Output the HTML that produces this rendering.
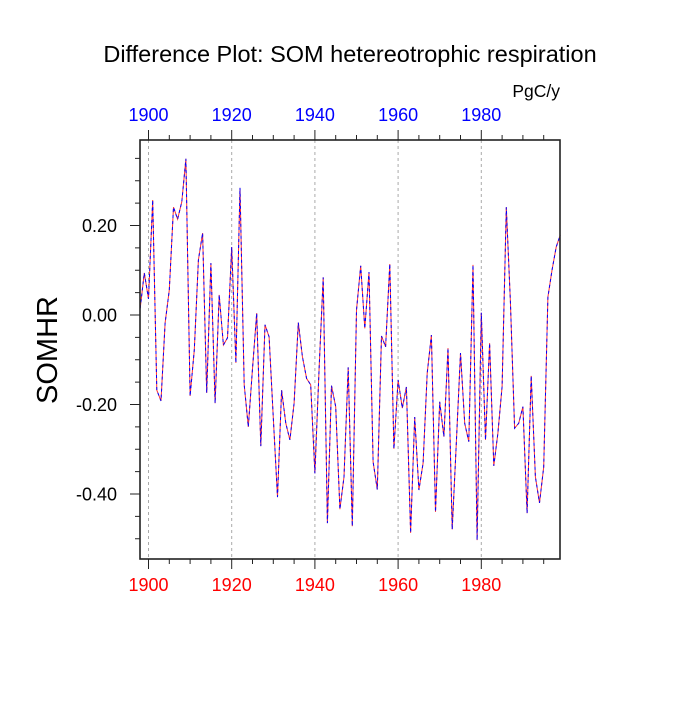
<!DOCTYPE html>
<html><head><meta charset="utf-8"><style>
body{margin:0;background:#fff}
svg text{font-family:"Liberation Sans",Arial,sans-serif}
</style></head><body>
<svg id="chart" width="700" height="700" xmlns="http://www.w3.org/2000/svg">
<text x="350" y="62" text-anchor="middle" font-size="23.5">Difference Plot: SOM hetereotrophic respiration</text>
<text x="560" y="97" text-anchor="end" font-size="17.5">PgC/y</text>
<text transform="translate(57,350) rotate(-90)" text-anchor="middle" font-size="29">SOMHR</text>
<g id="grid"></g>
<g id="series"></g>
<g id="axes"></g>
</svg>
<script>
const startYear = 1898;
const values = [0.015,0.094,0.036,0.257,-0.168,-0.192,-0.018,0.056,0.241,0.214,0.253,0.349,-0.181,-0.078,0.123,0.183,-0.174,0.116,-0.197,0.045,-0.067,-0.051,0.152,-0.107,0.284,-0.156,-0.250,-0.12,0.004,-0.293,-0.022,-0.049,-0.23,-0.407,
-0.168,-0.242,-0.279,-0.197,-0.017,-0.093,-0.142,-0.156,-0.354,-0.12,0.084,-0.465,-0.158,-0.205,-0.434,-0.362,-0.117,-0.472,0.011,0.110,-0.030,0.096,-0.328,-0.390,-0.047,-0.071,0.114,-0.299,-0.145,-0.208,-0.161,-0.487,-0.228,-0.391,
-0.331,-0.130,-0.045,-0.440,-0.194,-0.272,-0.074,-0.479,-0.287,-0.085,-0.242,-0.283,0.112,-0.503,0.005,-0.279,-0.063,-0.337,-0.264,-0.160,0.241,0.03,-0.253,-0.242,-0.205,-0.443,-0.136,-0.362,-0.420,-0.340,0.040,0.100,0.152,0.179];
const xTicks = [1900,1920,1940,1960,1980];
const yTicks = [0.2,0.0,-0.2,-0.4];
const yTickLabels = ["0.20","0.00","-0.20","-0.40"];

const L=140,R=560,T=140,B=559;
const x = yr => 148.5 + (yr-1900)*4.16;
const y = v => 315 - v*447.5;
const NS="http://www.w3.org/2000/svg";
function mk(tag, parent, attrs){const e=document.createElementNS(NS,tag);for(const k in attrs)e.setAttribute(k,attrs[k]);parent.appendChild(e);return e;}
const grid=document.getElementById('grid'), series=document.getElementById('series'), axes=document.getElementById('axes');

xTicks.forEach(t=>{
  const g=mk('line',grid,{x1:x(t),x2:x(t),y1:T,y2:B,stroke:'#aaa','stroke-width':1,'stroke-dasharray':'3,3'});
  
  
});

const pts=values.map((v,i)=>x(startYear+i).toFixed(1)+','+y(v).toFixed(1)).join(' ');
const l1=mk('polyline',series,{points:pts,fill:'none',stroke:'#f33','stroke-width':1});


const l2=mk('polyline',series,{points:pts,fill:'none',stroke:'#00f','stroke-width':1,'stroke-dasharray':'3,3'});



const frame=mk('rect',axes,{x:L,y:T,width:R-L,height:B-T,fill:'none',stroke:'#222','stroke-width':1.6});



for(let yr=1900; yr<=1995; yr+=5){
  const maj = yr%20===0 && yr<=1980;
  const len = maj?10:5;
  mk('line',axes,{x1:x(yr),x2:x(yr),y1:T,y2:T-len,stroke:'#222','stroke-width':1});
  mk('line',axes,{x1:x(yr),x2:x(yr),y1:B,y2:B+len,stroke:'#222','stroke-width':1});
}
xTicks.forEach(t=>{
  const a=mk('text',axes,{x:x(t),y:121,'text-anchor':'middle','font-size':18,fill:'#00f'});a.textContent=t;
  
  
  const b=mk('text',axes,{x:x(t),y:591,'text-anchor':'middle','font-size':18,fill:'#f00'});b.textContent=t;
  
  
});
for(let k=-10;k<=7;k++){
  const v=k*0.05; const yy=y(v);
  if(yy<T||yy>B) continue;
  const maj = k%4===0;
  mk('line',axes,{x1:L,x2:L-(maj?10:5),y1:yy,y2:yy,stroke:'#222','stroke-width':1});
}
yTicks.forEach((t,i)=>{
  const a=mk('text',axes,{x:117,y:y(t)+6.5,'text-anchor':'end','font-size':18,fill:'#000'});a.textContent=yTickLabels[i];
  
  
});
</script>
</body></html>
